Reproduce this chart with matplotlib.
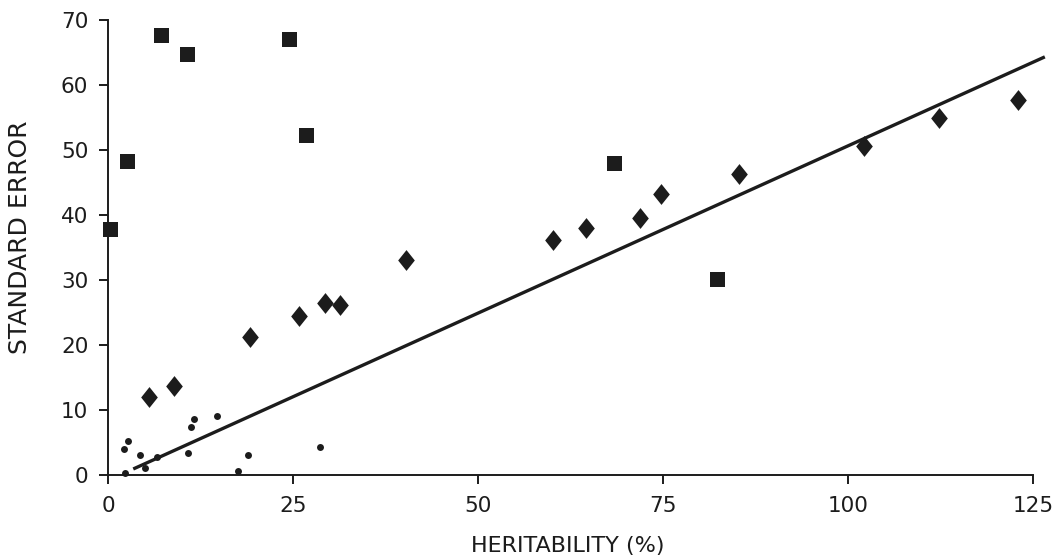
import matplotlib
matplotlib.use('Agg')
import matplotlib.pyplot as plt
from matplotlib.path import Path

# squares
sq_x = [0.2, 2.5, 7.1, 10.6, 24.4, 26.7, 68.4, 82.3]
sq_y = [37.9, 48.4, 67.8, 64.8, 67.2, 52.4, 48.1, 30.3]

# diamonds
dm_x = [5.5, 8.8, 19.1, 25.7, 29.3, 31.3, 40.2, 60.1, 64.5, 71.9, 74.7, 85.2, 102.1, 112.3, 123.0]
dm_y = [12.0, 13.7, 21.3, 24.5, 26.6, 26.2, 33.2, 36.3, 38.1, 39.6, 43.3, 46.4, 50.7, 55.0, 57.8]

# small dots
dt_x = [2.2, 2.1, 2.7, 4.3, 5.0, 6.5, 10.7, 11.2, 11.5, 14.7, 17.5, 18.8, 28.6]
dt_y = [0.4, 4.1, 5.3, 3.2, 1.2, 2.9, 3.4, 7.5, 8.7, 9.2, 0.7, 3.2, 4.4]

# fitted line
line_x = [3.35, 126.6]
line_y = [1.0, 64.4]

xticks = [0, 25, 50, 75, 100, 125]
yticks = [0, 10, 20, 30, 40, 50, 60, 70]

ink = '#1c1c1c'
plt.rcParams['font.family'] = ['DejaVu Sans']

fig = plt.figure(figsize=(10.62, 5.58), dpi=100)
ax = fig.add_axes([0.0917, 0.1304, 0.8984, 0.8504])

diamond = Path([(0, 1), (0.8, 0), (0, -1), (-0.8, 0), (0, 1)],
               [Path.MOVETO, Path.LINETO, Path.LINETO, Path.LINETO, Path.CLOSEPOLY])

ax.plot(line_x, line_y, color=ink, lw=2.4, solid_capstyle='butt', zorder=2)
ax.plot(sq_x, sq_y, 's', color=ink, ms=10.8, mew=0, zorder=3, clip_on=False)
ax.plot(dm_x, dm_y, marker=diamond, ls='none', color=ink, ms=15, mew=0, zorder=3)
ax.plot(dt_x, dt_y, 'o', color=ink, ms=5, mew=0, zorder=3, clip_on=False)

ax.set_xlim(-1.5, 127.5)
ax.set_ylim(-1.5, 71.5)
for s in ['top', 'right']:
    ax.spines[s].set_visible(False)
ax.spines['left'].set_position(('data', 0))
ax.spines['bottom'].set_position(('data', 0))
ax.spines['left'].set_bounds(0, 70)
ax.spines['bottom'].set_bounds(0, 125)
for s in ['left', 'bottom']:
    ax.spines[s].set_linewidth(1.4)
    ax.spines[s].set_color(ink)

ax.set_xticks(xticks)
ax.set_yticks(yticks)
ax.tick_params(direction='out', length=6.5, width=1.4, color=ink,
               labelsize=15.5, labelcolor=ink)
ax.tick_params(axis='y', pad=8)
ax.tick_params(axis='x', pad=8)

ax.set_xlabel('HERITABILITY (%)', fontsize=16, color=ink)
ax.set_ylabel('STANDARD ERROR', fontsize=18, color=ink)
ax.xaxis.set_label_coords(0.493, -0.107)
ax.yaxis.set_label_coords(-0.0685, 0.523)

fig.savefig('out.png', dpi=100)
